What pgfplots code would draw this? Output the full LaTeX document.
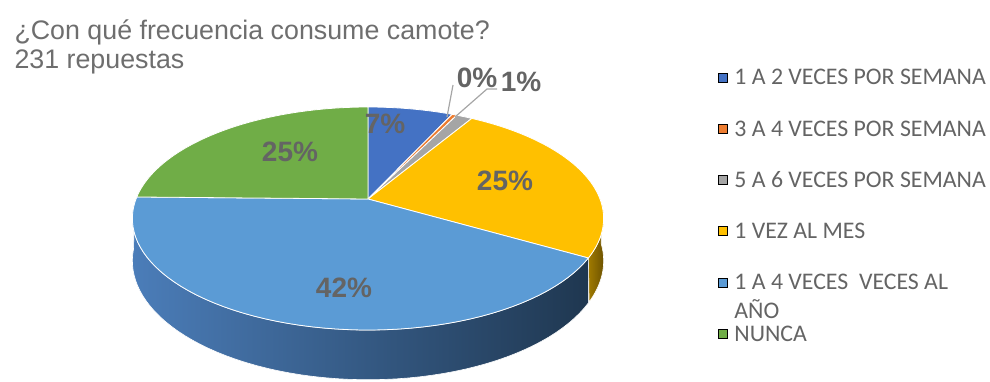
\documentclass[border=0pt]{standalone}
\usepackage{fontspec}
\usepackage{pgfplots}
\usepackage{pgfplotstable}
\pgfplotsset{compat=1.18}
\setmainfont{Liberation Sans}
\newfontfamily\carlito{Carlito}
\definecolor{cBlue}{HTML}{4472C4}
\definecolor{cOrange}{HTML}{ED7D31}
\definecolor{cGray}{HTML}{A5A5A5}
\definecolor{cYellow}{HTML}{FFC000}
\definecolor{cLBlue}{HTML}{5B9BD5}
\definecolor{cGreen}{HTML}{70AD47}
\definecolor{sideL}{HTML}{4B7DB9}
\definecolor{sideM}{HTML}{3D6896}
\definecolor{sideR}{HTML}{1F3750}
\definecolor{ysideL}{HTML}{A07A00}
\definecolor{ysideR}{HTML}{6E5300}
\definecolor{titlegray}{HTML}{6E6E6E}
\definecolor{labgray}{HTML}{646464}
\definecolor{leggray}{HTML}{646464}
\definecolor{leader}{HTML}{A6A6A6}

% percentage of the 231 answers
\pgfplotstableread{
label value
1a2sem 6.9
3a4sem 0.4
5a6sem 1.3
1mes   24.7
1a4ano 42.0
nunca  24.7
}\piedata
\pgfplotstablegetelem{0}{value}\of\piedata\let\vA\pgfplotsretval
\pgfplotstablegetelem{1}{value}\of\piedata\let\vB\pgfplotsretval
\pgfplotstablegetelem{2}{value}\of\piedata\let\vC\pgfplotsretval
\pgfplotstablegetelem{3}{value}\of\piedata\let\vD\pgfplotsretval
\pgfplotstablegetelem{4}{value}\of\piedata\let\vE\pgfplotsretval
\pgfplotstablegetelem{5}{value}\of\piedata\let\vF\pgfplotsretval
\pgfmathsetmacro\tot{\vA+\vB+\vC+\vD+\vE+\vF}
\pgfmathsetmacro\aA{360*\vA/\tot}
\pgfmathsetmacro\aB{\aA+360*\vB/\tot}
\pgfmathsetmacro\aC{\aB+360*\vC/\tot}
\pgfmathsetmacro\aD{\aC+360*\vD/\tot}
\pgfmathsetmacro\aE{\aD+360*\vE/\tot}
\pgfmathsetmacro\aF{\aE+360*\vF/\tot}
\pgfmathsetmacro\yA{max(\aC,92)}
\pgfmathsetmacro\yB{min(\aD,268)}
\pgfmathsetmacro\lA{max(\aD,92)}
\pgfmathsetmacro\lB{min(\aE,268)}

\newcommand\slice[3]{%
  \addplot[forget plot, fill=#3, draw=white, line width=0.8bp, line join=round, domain=#1:#2, samples=60]
    ({px(x)},{py(x)}) -- (axis cs:368,199) -- cycle;}
\newcommand\sideface[3]{%
  \addplot[forget plot, #3, draw=white, line width=0.6bp, line join=round, domain=0:2, samples=121]
    ({x<=1 ? px(#1+(#2-#1)*x) : px(#2-(#2-#1)*(x-1))},
     {x<=1 ? py(#1+(#2-#1)*x) : pb(#2-(#2-#1)*(x-1))}) -- cycle;}

\begin{document}
\begin{tikzpicture}[declare function={
  px(\t)=368+232*sin(\t)/(1+0.175*cos(\t));
  py(\t)=199-108.1*cos(\t)/(1+0.175*cos(\t));
  pb(\t)=199+(41-108.1*cos(\t))/(1+0.175*cos(\t));
}]
\begin{axis}[
  width=990bp, height=381bp, scale only axis,
  xmin=0, xmax=990, ymin=0, ymax=381, y dir=reverse,
  hide axis, clip=false,
  legend image code/.code={\fill[#1] (0bp,3bp) rectangle (9bp,12bp);},
  legend cell align=left,
  legend style={at={(718/990,1-68/381)}, anchor=north west,
    draw=none, fill=none, inner sep=0pt, outer sep=0pt,
    row sep=28.2bp,
    cells={anchor=base west},
    nodes={inner sep=0pt, text height=17bp, text depth=6bp, text=leggray,
           font=\carlito\fontsize{23.8bp}{29bp}\selectfont},
    /tikz/every odd column/.append style={column sep=7bp}},
]
\addplot[forget plot, draw=none] coordinates {(0,0) (990,381)};
% sides
\sideface{\yA}{\yB}{left color=ysideL, right color=ysideR}
\sideface{\lA}{\lB}{left color=sideL, middle color=sideM, right color=sideR}
% top faces
\slice{0}{\aA}{cBlue}
\slice{\aA}{\aB}{cOrange}
\slice{\aB}{\aC}{cGray}
\slice{\aC}{\aD}{cYellow}
\slice{\aD}{\aE}{cLBlue}
\slice{\aE}{\aF}{cGreen}
% leader lines
\addplot[forget plot, leader, line width=1.2bp] coordinates {(453,85) (447,117)};
\addplot[forget plot, leader, line width=1.2bp] coordinates {(497,89) (487,89) (455,117)};
% legend
\addlegendimage{fill=cBlue}\addlegendentry{1 A 2 VECES POR SEMANA}
\addlegendimage{fill=cOrange}\addlegendentry{3 A 4 VECES POR SEMANA}
\addlegendimage{fill=cGray}\addlegendentry{5 A 6 VECES POR SEMANA}
\addlegendimage{fill=cYellow}\addlegendentry{1 VEZ AL MES}
\addlegendimage{fill=cLBlue}\addlegendentry{\smash{\begin{tabular}[t]{@{}l@{}}1 A 4 VECES\ \ VECES AL\\AÑO\end{tabular}}}
\addlegendimage{fill=cGreen}\addlegendentry{NUNCA}
% labels
\begin{scope}[every node/.style={anchor=base, text=labgray, font=\bfseries\fontsize{28bp}{30bp}\selectfont}]
\node at (axis cs:385,133) {7\%};
\node at (axis cs:477,87) {0\%};
\node at (axis cs:521,91) {1\%};
\node at (axis cs:505,190) {25\%};
\node at (axis cs:344,297) {42\%};
\node at (axis cs:290,161) {25\%};
\end{scope}
% title
\node[anchor=base west, text=titlegray, font=\fontsize{26.8bp}{30bp}\selectfont] at (axis cs:11,39) {¿Con qué frecuencia consume camote?};
\node[anchor=base west, text=titlegray, font=\fontsize{26.8bp}{30bp}\selectfont] at (axis cs:11,68) {231 repuestas};
\end{axis}
\end{tikzpicture}
\end{document}
